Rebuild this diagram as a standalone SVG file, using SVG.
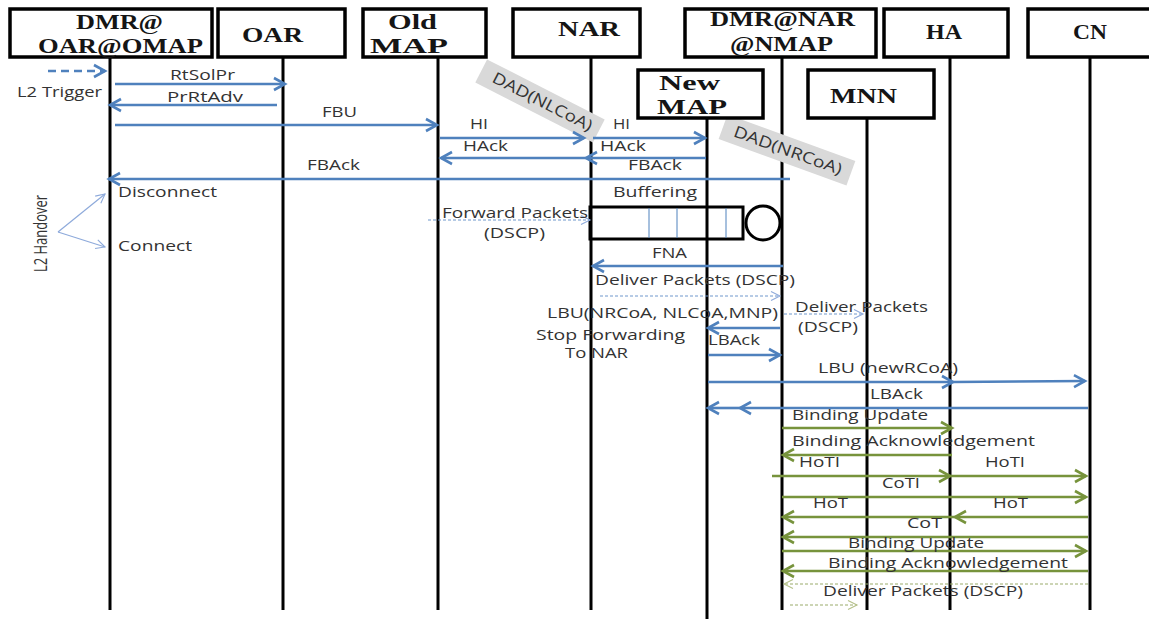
<svg xmlns="http://www.w3.org/2000/svg" width="1149" height="621" viewBox="0 0 1149 621">
<style>
.box{fill:#fff;stroke:#000;stroke-width:3.5}
.life{stroke:#000;stroke-width:3;fill:none}
.hd{font-family:"Liberation Serif",serif;font-weight:bold;font-size:21px;fill:#151515}
.t{font-family:"Open Sans","Liberation Sans",sans-serif;font-size:14.5px;fill:#333}
.b{stroke:#4f81bd;stroke-width:2.6;fill:none;marker-end:url(#ab)}
.g{stroke:#77933c;stroke-width:2.6;fill:none;marker-end:url(#ag)}
.bd{stroke:#6f97cc;stroke-width:1;stroke-dasharray:3 2;fill:none;marker-end:url(#abt)}
.gd{stroke:#9aab6a;stroke-width:1;stroke-dasharray:3 2;fill:none;marker-end:url(#agt)}
.hand{stroke:#8eaadb;stroke-width:1.2;fill:none;marker-end:url(#abt)}
.dad{fill:#d9d9d9}
</style>
<defs>
<marker id="ab" markerUnits="userSpaceOnUse" markerWidth="16" markerHeight="16" refX="13" refY="8" orient="auto"><path d="M2,2 L13,8 L2,14" fill="none" stroke="#4f81bd" stroke-width="2.6"/></marker>
<marker id="ag" markerUnits="userSpaceOnUse" markerWidth="16" markerHeight="16" refX="13" refY="8" orient="auto"><path d="M2,2 L13,8 L2,14" fill="none" stroke="#77933c" stroke-width="2.6"/></marker>
<marker id="abt" markerUnits="userSpaceOnUse" markerWidth="12" markerHeight="12" refX="10" refY="6" orient="auto"><path d="M1,1.5 L10,6 L1,10.5" fill="none" stroke="#8eaadb" stroke-width="1.1"/></marker>
<marker id="agt" markerUnits="userSpaceOnUse" markerWidth="12" markerHeight="12" refX="10" refY="6" orient="auto"><path d="M1,1.5 L10,6 L1,10.5" fill="none" stroke="#b5c08a" stroke-width="1.1"/></marker>
</defs>
<rect width="1149" height="621" fill="#fff"/>

<g id="buffer">
<rect x="590" y="207" width="153" height="32" fill="#fff" stroke="#000" stroke-width="3"/>
<line x1="649" y1="208" x2="649" y2="238" stroke="#4f81bd" stroke-width="1"/>
<line x1="677" y1="208" x2="677" y2="238" stroke="#4f81bd" stroke-width="1"/>
<line x1="726" y1="208" x2="726" y2="238" stroke="#4f81bd" stroke-width="1"/>
<circle cx="763" cy="223" r="17" fill="#fff" stroke="#000" stroke-width="3"/>
</g>

<g id="lifelines">
<line class="life" x1="110" y1="57" x2="110" y2="610"/>
<line class="life" x1="283" y1="57" x2="283" y2="610"/>
<line class="life" x1="438" y1="57" x2="438" y2="610"/>
<line class="life" x1="591" y1="57" x2="591" y2="610"/>
<line class="life" x1="707" y1="118" x2="707" y2="619"/>
<line class="life" x1="782" y1="57" x2="782" y2="610"/>
<line class="life" x1="867" y1="118" x2="867" y2="610"/>
<line class="life" x1="950" y1="57" x2="950" y2="610"/>
<line class="life" x1="1090" y1="57" x2="1090" y2="610"/>
</g>

<g id="dad-nlcoa">
<rect class="dad" x="-66" y="-13" width="132" height="26" transform="translate(540,101) rotate(27)"/>
<text class="t" style="font-size:16px" text-anchor="middle" transform="translate(540,106.5) rotate(27)" textLength="110" lengthAdjust="spacingAndGlyphs">DAD(NLCoA)</text>
</g>
<g id="dad-nrcoa">
<rect class="dad" x="-68" y="-13" width="136" height="26" transform="translate(787,150) rotate(20)"/>
<text class="t" style="font-size:16px" text-anchor="middle" transform="translate(786,155.5) rotate(20)" textLength="114" lengthAdjust="spacingAndGlyphs">DAD(NRCoA)</text>
</g>

<g id="node-dmr-omap"><rect class="box" x="10" y="9" width="202" height="48"/>
<text class="hd" x="76" y="29" textLength="87" lengthAdjust="spacingAndGlyphs">DMR@</text>
<text class="hd" x="38" y="53" textLength="165" lengthAdjust="spacingAndGlyphs">OAR@OMAP</text></g>
<g id="node-oar"><rect class="box" x="218" y="9" width="127" height="48"/>
<text class="hd" x="242" y="42" textLength="61" lengthAdjust="spacingAndGlyphs">OAR</text></g>
<g id="node-oldmap"><rect class="box" x="363" y="9" width="123" height="48"/>
<text class="hd" x="388" y="29" textLength="49" lengthAdjust="spacingAndGlyphs">Old</text>
<text class="hd" x="370" y="53" textLength="78" lengthAdjust="spacingAndGlyphs">MAP</text></g>
<g id="node-nar"><rect class="box" x="513" y="9" width="127" height="48"/>
<text class="hd" x="558" y="36" textLength="62" lengthAdjust="spacingAndGlyphs">NAR</text></g>
<g id="node-dmr-nmap"><rect class="box" x="685" y="9" width="191" height="48"/>
<text class="hd" x="710" y="26" textLength="145" lengthAdjust="spacingAndGlyphs">DMR@NAR</text>
<text class="hd" x="730" y="51" textLength="103" lengthAdjust="spacingAndGlyphs">@NMAP</text></g>
<g id="node-ha"><rect class="box" x="884" y="9" width="124" height="48"/>
<text class="hd" x="926" y="39" textLength="36" lengthAdjust="spacingAndGlyphs">HA</text></g>
<g id="node-cn"><rect class="box" x="1028" y="9" width="127" height="48"/>
<text class="hd" x="1073" y="39" textLength="34" lengthAdjust="spacingAndGlyphs">CN</text></g>
<g id="node-newmap"><rect class="box" x="638" y="70" width="125" height="48"/>
<text class="hd" x="659" y="90" textLength="61" lengthAdjust="spacingAndGlyphs">New</text>
<text class="hd" x="657" y="114" textLength="70" lengthAdjust="spacingAndGlyphs">MAP</text></g>
<g id="node-mnn"><rect class="box" x="808" y="70" width="126" height="48"/>
<text class="hd" x="830" y="103" textLength="67" lengthAdjust="spacingAndGlyphs">MNN</text></g>

<g id="connectors">
<line class="b" x1="48" y1="71" x2="105" y2="71" stroke-dasharray="8 5"/>
<line class="b" x1="115" y1="84" x2="285" y2="84"/>
<line class="b" x1="277" y1="105" x2="110" y2="105"/>
<line class="b" x1="115" y1="125" x2="437" y2="125"/>
<line class="b" x1="440" y1="138" x2="584" y2="138"/>
<line class="b" x1="593" y1="138" x2="705" y2="138"/>
<line class="b" x1="586" y1="158" x2="441" y2="158"/>
<line class="b" x1="706" y1="158" x2="586" y2="158"/>
<line class="b" x1="790" y1="179" x2="109" y2="179"/>
<line class="hand" x1="58" y1="232" x2="105" y2="194"/>
<line class="hand" x1="58" y1="232" x2="105" y2="247"/>
<line class="bd" x1="428" y1="220" x2="590" y2="220"/>
<line class="b" x1="783" y1="266" x2="593" y2="266"/>
<line class="bd" x1="600" y1="296" x2="780" y2="296"/>
<line class="bd" x1="784" y1="314" x2="863" y2="314"/>
<line class="b" x1="780" y1="328" x2="708" y2="328"/>
<line class="b" x1="708" y1="355" x2="780" y2="355"/>
<line class="b" x1="708" y1="382" x2="953" y2="382"/>
<line class="b" x1="953" y1="382" x2="1085" y2="381"/>
<line class="b" x1="1088" y1="408" x2="740" y2="408"/>
<line class="b" x1="740" y1="408" x2="708" y2="408"/>
<line class="g" x1="782" y1="428" x2="952" y2="428"/>
<line class="g" x1="952" y1="455" x2="783" y2="455"/>
<line class="g" x1="772" y1="476" x2="950" y2="476"/>
<line class="g" x1="950" y1="476" x2="1086" y2="476"/>
<line class="g" x1="782" y1="497" x2="1086" y2="497"/>
<line class="g" x1="1088" y1="517" x2="955" y2="517"/>
<line class="g" x1="955" y1="517" x2="783" y2="517"/>
<line class="g" x1="1088" y1="537" x2="783" y2="537"/>
<line class="g" x1="782" y1="551" x2="1086" y2="551"/>
<line class="g" x1="1088" y1="571" x2="783" y2="571"/>
<line class="gd" x1="1088" y1="584" x2="784" y2="584"/>
<line class="gd" x1="790" y1="605" x2="857" y2="605"/>
</g>

<g id="labels">
<text class="t" x="17" y="97" textLength="85" lengthAdjust="spacingAndGlyphs">L2 Trigger</text>
<text class="t" x="170" y="80" textLength="65" lengthAdjust="spacingAndGlyphs">RtSolPr</text>
<text class="t" x="167" y="102" textLength="76" lengthAdjust="spacingAndGlyphs">PrRtAdv</text>
<text class="t" x="322" y="117" textLength="35" lengthAdjust="spacingAndGlyphs">FBU</text>
<text class="t" x="470" y="129" textLength="18" lengthAdjust="spacingAndGlyphs">HI</text>
<text class="t" x="613" y="129" textLength="17" lengthAdjust="spacingAndGlyphs">HI</text>
<text class="t" x="463" y="151" textLength="45" lengthAdjust="spacingAndGlyphs">HAck</text>
<text class="t" x="600" y="151" textLength="46" lengthAdjust="spacingAndGlyphs">HAck</text>
<text class="t" x="628" y="170" textLength="54" lengthAdjust="spacingAndGlyphs">FBAck</text>
<text class="t" x="307" y="170" textLength="53" lengthAdjust="spacingAndGlyphs">FBAck</text>
<text class="t" x="118" y="197" textLength="99" lengthAdjust="spacingAndGlyphs">Disconnect</text>
<text class="t" x="118" y="251" textLength="74" lengthAdjust="spacingAndGlyphs">Connect</text>
<text class="t" style="font-size:18px" transform="translate(47,272) rotate(-90)" textLength="77" lengthAdjust="spacingAndGlyphs">L2 Handover</text>
<text class="t" x="613" y="197" textLength="84" lengthAdjust="spacingAndGlyphs">Buffering</text>
<text class="t" x="442" y="218" textLength="146" lengthAdjust="spacingAndGlyphs">Forward Packets</text>
<text class="t" x="484" y="238" textLength="61" lengthAdjust="spacingAndGlyphs">(DSCP)</text>
<text class="t" x="652" y="258" textLength="35" lengthAdjust="spacingAndGlyphs">FNA</text>
<text class="t" x="595" y="285" textLength="200" lengthAdjust="spacingAndGlyphs">Deliver Packets (DSCP)</text>
<text class="t" x="547" y="318" textLength="231" lengthAdjust="spacingAndGlyphs">LBU(NRCoA, NLCoA,MNP)</text>
<text class="t" x="795" y="312" textLength="133" lengthAdjust="spacingAndGlyphs">Deliver Packets</text>
<text class="t" x="798" y="332" textLength="60" lengthAdjust="spacingAndGlyphs">(DSCP)</text>
<text class="t" x="536" y="340" textLength="149" lengthAdjust="spacingAndGlyphs">Stop Forwarding</text>
<text class="t" x="565" y="358" textLength="63" lengthAdjust="spacingAndGlyphs">To NAR</text>
<text class="t" x="708" y="345" textLength="52" lengthAdjust="spacingAndGlyphs">LBAck</text>
<text class="t" x="818" y="373" textLength="140" lengthAdjust="spacingAndGlyphs">LBU (newRCoA)</text>
<text class="t" x="870" y="399" textLength="53" lengthAdjust="spacingAndGlyphs">LBAck</text>
<text class="t" x="792" y="420" textLength="136" lengthAdjust="spacingAndGlyphs">Binding Update</text>
<text class="t" x="792" y="446" textLength="243" lengthAdjust="spacingAndGlyphs">Binding Acknowledgement</text>
<text class="t" x="799" y="467" textLength="41" lengthAdjust="spacingAndGlyphs">HoTI</text>
<text class="t" x="985" y="467" textLength="40" lengthAdjust="spacingAndGlyphs">HoTI</text>
<text class="t" x="882" y="488" textLength="38" lengthAdjust="spacingAndGlyphs">CoTI</text>
<text class="t" x="813" y="508" textLength="35" lengthAdjust="spacingAndGlyphs">HoT</text>
<text class="t" x="993" y="508" textLength="35" lengthAdjust="spacingAndGlyphs">HoT</text>
<text class="t" x="907" y="528" textLength="35" lengthAdjust="spacingAndGlyphs">CoT</text>
<text class="t" x="848" y="548" textLength="136" lengthAdjust="spacingAndGlyphs">Binding Update</text>
<text class="t" x="828" y="568" textLength="240" lengthAdjust="spacingAndGlyphs">Binding Acknowledgement</text>
<text class="t" x="823" y="596" textLength="200" lengthAdjust="spacingAndGlyphs">Deliver Packets (DSCP)</text>
</g>
</svg>
